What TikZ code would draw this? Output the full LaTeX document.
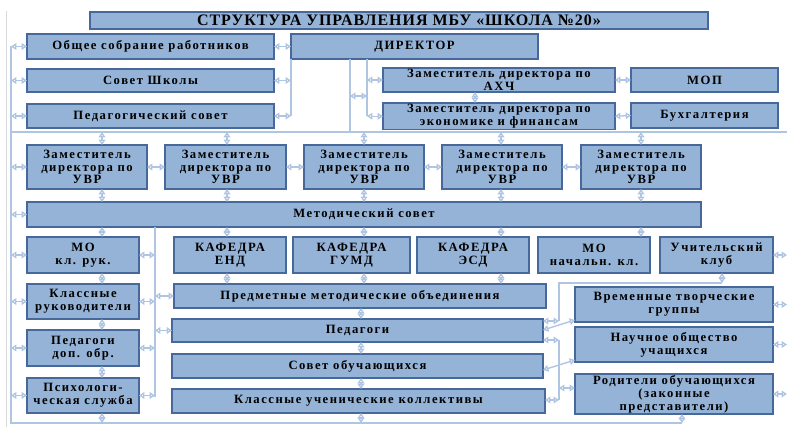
\documentclass[tikz,border=0pt]{standalone}
\usepackage{fontspec}
\setmainfont{Liberation Serif}
\usetikzlibrary{arrows.meta}
\definecolor{boxfill}{HTML}{95B3D7}
\definecolor{boxline}{HTML}{46689A}
\definecolor{conline}{HTML}{AFC5E2}
\definecolor{frameg}{HTML}{D9D9D9}
\tikzset{
  box/.style={draw=boxline, fill=boxfill, line width=1.2pt, inner sep=1pt, outer sep=0pt, align=center,
    font=\bfseries\fontsize{9.5}{9.6}\selectfont\addfontfeature{LetterSpace=12}},
  con/.style={draw=conline, line width=1pt},
  biar/.style={con, {Triangle[open,length=4pt,width=5pt]}-{Triangle[open,length=4pt,width=5pt]}},
}
\newcommand\mybox[6]{\node[box, anchor=north west, minimum width={(#4-#2)*0.75pt}, minimum height={(#5-#3)*0.75pt}] (#1) at (#2,#3) {#6};}
\begin{document}
\begin{tikzpicture}[x=0.75pt,y=-0.75pt]
\useasboundingbox (0,0) rectangle (787,427);
\draw[frameg, line width=0.6pt] (6,11) -- (6,427);
% boxes
\node[box, anchor=north west, minimum width={618*0.75pt}, minimum height={17*0.75pt},
  font=\bfseries\fontsize{12}{12}\selectfont\addfontfeature{LetterSpace=6}] (title) at (90,12) {СТРУКТУРА УПРАВЛЕНИЯ МБУ «ШКОЛА №20»};
\mybox{obsh}{27}{34}{274}{59}{Общее собрание работников}
\mybox{dir}{291}{34}{538}{59}{ДИРЕКТОР}
\mybox{sovet}{27}{69}{274}{92}{Совет Школы}
\mybox{pedsov}{27}{104}{274}{128}{Педагогический совет}
\mybox{ahch}{383}{68}{615}{92}{Заместитель директора по\\АХЧ}
\mybox{mop}{631}{68}{778}{92}{МОП}
\mybox{ekon}{383}{103}{615}{128}{Заместитель директора по\\экономике и финансам}
\mybox{buh}{631}{103}{778}{128}{Бухгалтерия}
\mybox{dep1}{27}{145}{147}{189}{Заместитель\\директора по\\УВР}
\mybox{dep2}{165}{145}{286}{189}{Заместитель\\директора по\\УВР}
\mybox{dep3}{304}{145}{424}{189}{Заместитель\\директора по\\УВР}
\mybox{dep4}{442}{145}{562}{189}{Заместитель\\директора по\\УВР}
\mybox{dep5}{581}{145}{701}{189}{Заместитель\\директора по\\УВР}
\mybox{metod}{27}{202}{701}{227}{Методический совет}
\mybox{mokl}{27}{237}{139}{273}{МО\\кл. рук.}
\mybox{end}{174}{237}{286}{273}{КАФЕДРА\\ЕНД}
\mybox{gumd}{293}{237}{410}{273}{КАФЕДРА\\ГУМД}
\mybox{esd}{417}{237}{529}{273}{КАФЕДРА\\ЭСД}
\mybox{monk}{538}{237}{650}{273}{МО\\начальн. кл.}
\mybox{ucl}{660}{237}{773}{273}{Учительский\\клуб}
\mybox{klruk}{27}{284}{139}{319}{Классные\\руководители}
\mybox{pdo}{27}{330}{139}{366}{Педагоги\\доп. обр.}
\mybox{psy}{27}{378}{139}{413}{Психологи-\\ческая служба}
\mybox{pmo}{174}{284}{546}{308}{Предметные методические объединения}
\mybox{ped}{172}{319}{543}{342}{Педагоги}
\mybox{sob}{172}{354}{543}{378}{Совет обучающихся}
\mybox{kuk}{172}{389}{545}{413}{Классные ученические коллективы}
\mybox{vtg}{575}{287}{773}{322}{Временные творческие\\группы}
\mybox{nou}{575}{327}{773}{362}{Научное общество\\учащихся}
\mybox{rod}{575}{374}{773}{413}{Родители обучающихся\\(законные\\представители)}
% coordinates
\coordinate (Lt) at (11,46);
\coordinate (Lb) at (11,423);
\coordinate (Br) at (682,423);
\coordinate (bus1) at (11,132);
\coordinate (bus2) at (787,132);
\coordinate (R) at (787,0);
\coordinate (xa) at (350,0);
\coordinate (xb) at (367,0);
\coordinate (xc) at (475,0);
\coordinate (cy) at (0,96);
\coordinate (xl) at (102,0);
\coordinate (xA) at (227,0);
\coordinate (xB) at (364,0);
\coordinate (xP) at (361,0);
\coordinate (xC) at (501,0);
\coordinate (xD) at (641,0);
\coordinate (xE) at (722,0);
\coordinate (xF) at (559,0);
\coordinate (Mt) at (155,227);
\coordinate (Mb) at (155,397);
\coordinate (yU) at (0,283);
\coordinate (yP) at (0,321);
\coordinate (yQ) at (0,340);
\coordinate (yR) at (0,388);
\coordinate (yS) at (0,400);
\coordinate (yT) at (0,320);
\coordinate (yV) at (0,330);
\coordinate (yW) at (0,360);
\coordinate (yX) at (0,370);
% main lines
\draw[con] (Lt) -- (Lb) -- (Br);
\draw[con] (bus1) -- (bus2);
\draw[con] (Mt) -- (Mb);
% left line branches
\foreach \b in {obsh,sovet,pedsov,dep1,metod,mokl,klruk,pdo,psy}
  \draw[biar] (\b.west -| Lt) -- (\b.west);
% director
\draw[biar] (obsh.east) -- (dir.west);
\draw[con] (dir.south west) -- (pedsov.east -| dir.west);
\draw[biar] (sovet.east) -- (sovet.east -| dir.west);
\draw[biar] (pedsov.east) -- (pedsov.east -| dir.west);
\draw[con] (dir.south -| xa) -- (bus1 -| xa);
\draw[con] (dir.south -| xb) -- (ekon.west -| xb);
\draw[biar] (xa |- cy) -- (xb |- cy);
\draw[biar] (ahch.west -| xb) -- (ahch.west);
\draw[biar] (ekon.west -| xb) -- (ekon.west);
\draw[biar] (ahch.south -| xc) -- (ekon.north -| xc);
\draw[biar] (ahch.east) -- (mop.west);
\draw[biar] (ekon.east) -- (buh.west);
% bus to deputies
\draw[biar] (bus1 -| xl) -- (dep1.north -| xl);
\draw[biar] (bus1 -| xA) -- (dep2.north -| xA);
\draw[biar] (bus1 -| xB) -- (dep3.north -| xB);
\draw[biar] (bus1 -| xC) -- (dep4.north -| xC);
\draw[biar] (bus1 -| xD) -- (dep5.north -| xD);
\draw[biar] (dep1.east) -- (dep2.west);
\draw[biar] (dep2.east) -- (dep3.west);
\draw[biar] (dep3.east) -- (dep4.west);
\draw[biar] (dep4.east) -- (dep5.west);
% deputies to metod
\draw[biar] (dep1.south -| xl) -- (metod.north -| xl);
\draw[biar] (dep2.south -| xA) -- (metod.north -| xA);
\draw[biar] (dep3.south -| xB) -- (metod.north -| xB);
\draw[biar] (dep4.south -| xC) -- (metod.north -| xC);
\draw[biar] (dep5.south -| xD) -- (metod.north -| xD);
% metod to row
\draw[biar] (metod.south -| xl) -- (mokl.north -| xl);
\draw[biar] (metod.south -| xA) -- (end.north -| xA);
\draw[biar] (metod.south -| xB) -- (gumd.north -| xB);
\draw[biar] (metod.south -| xC) -- (esd.north -| xC);
\draw[biar] (metod.south -| xD) -- (monk.north -| xD);
% left column
\draw[biar] (mokl.south -| xl) -- (klruk.north -| xl);
\draw[biar] (klruk.south -| xl) -- (pdo.north -| xl);
\draw[biar] (pdo.south -| xl) -- (psy.north -| xl);
\draw[biar] (psy.south -| xl) -- (Lb -| xl);
\foreach \b in {mokl,klruk,pdo,psy}
  \draw[biar] (\b.east) -- (\b.east -| Mt);
\draw[biar] (Mt |- pmo.west) -- (pmo.west);
\draw[biar] (Mt |- ped.west) -- (ped.west);
% kafedry to pmo
\draw[biar] (end.south -| xA) -- (pmo.north -| xA);
\draw[biar] (gumd.south -| xB) -- (pmo.north -| xB);
\draw[biar] (esd.south -| xC) -- (pmo.north -| xC);
% middle stack
\draw[biar] (pmo.south -| xP) -- (ped.north -| xP);
\draw[biar] (ped.south -| xP) -- (sob.north -| xP);
\draw[biar] (sob.south -| xP) -- (kuk.north -| xP);
\draw[biar] (kuk.south -| xP) -- (Lb -| xP);
\draw[biar] (rod.south -| Br) -- (Br);
% uchitelsky klub
\draw[biar] (ucl.south -| xE) -- (xE |- yU);
\draw[con] (xE |- yU) -- (xF |- yU) -- (xF |- yP);
\draw[biar] (xF |- yP) -- (ped.east |- yP);
\draw[con] (xF |- yQ) -- (xF |- yS);
\draw[biar] (xF |- yQ) -- (ped.east |- yQ);
\draw[biar] (xF |- yR) -- (rod.west |- yR);
\draw[biar] (xF |- yS) -- (kuk.east |- yS);
% diagonals
\draw[biar] (ped.east |- yV) -- (vtg.west |- yT);
\draw[biar] (sob.east |- yX) -- (nou.west |- yW);
% right stubs
\foreach \b in {ucl,vtg,nou,rod}
  \draw[biar] (\b.east) -- (\b.east -| R);
\end{tikzpicture}
\end{document}
